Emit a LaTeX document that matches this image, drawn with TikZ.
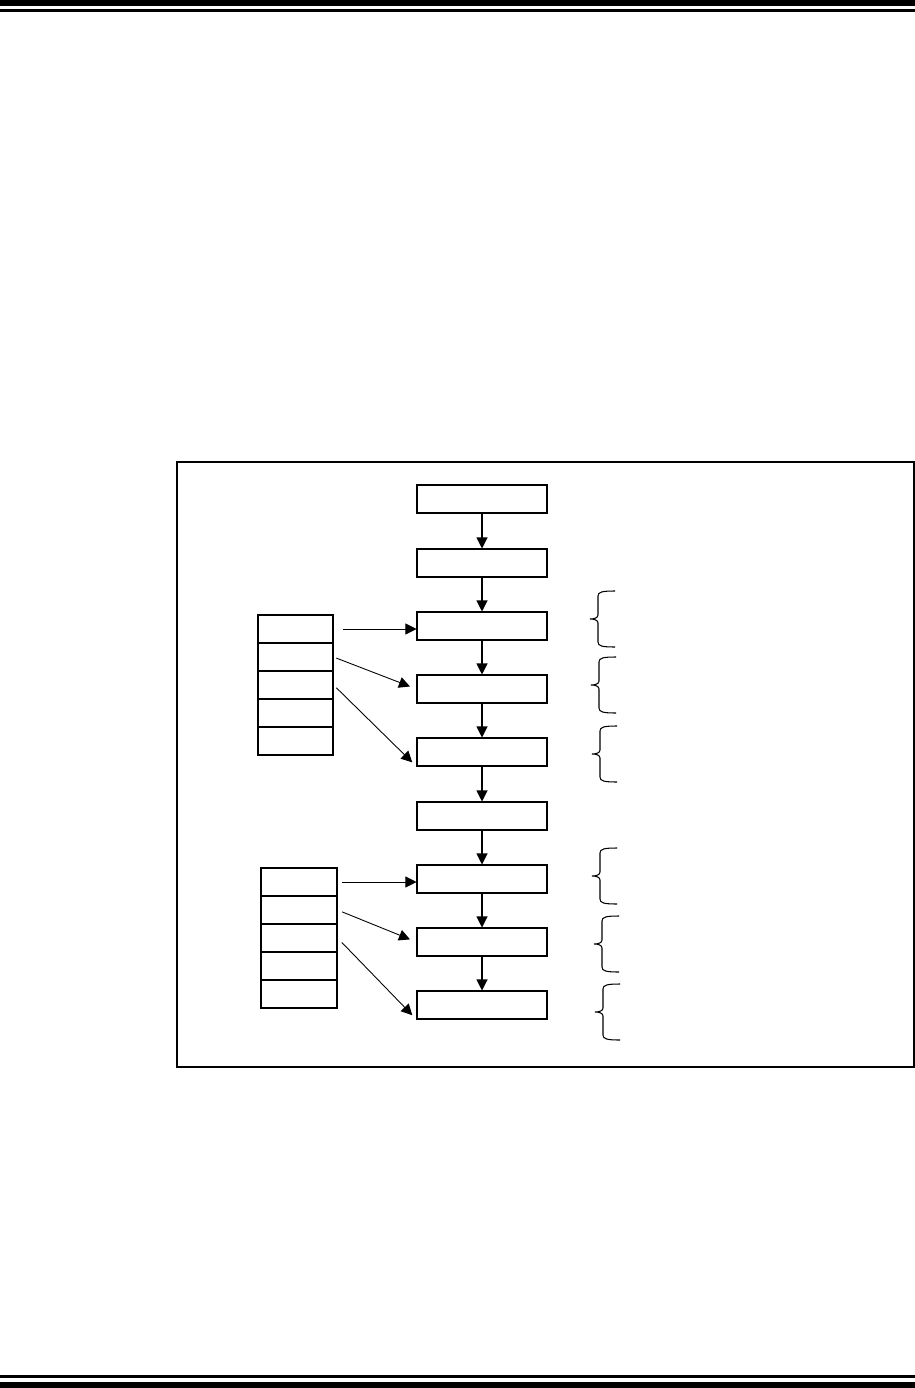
\documentclass[tikz,border=0pt]{standalone}
\usetikzlibrary{arrows.meta}
\tikzset{
  stepbox/.style={draw,line width=0.6pt,minimum width=2.6cm,minimum height=0.56cm,inner sep=0pt},
  cellbox/.style={draw,line width=0.6pt,minimum width=1.5cm,minimum height=0.56cm,inner sep=0pt},
  flow/.style={-{Triangle[length=2.2mm,width=2.2mm]},line width=0.6pt},
  feed/.style={-{Triangle[length=2.2mm,width=2.2mm]},line width=0.5pt}
}
% side brace: tip at (#1,#2), half height #3
\newcommand{\sidebrace}[3]{%
  \draw[line width=0.6pt] (#1+25,#2-#3) .. controls (#1+12,#2-#3) and (#1+8,#2-#3+1) .. (#1+8,#2-#3+5)
    -- (#1+8,#2-4) .. controls (#1+8,#2-1) and (#1+4,#2) .. (#1,#2)
    .. controls (#1+4,#2) and (#1+8,#2+1) .. (#1+8,#2+4)
    -- (#1+8,#2+#3-5) .. controls (#1+8,#2+#3-1) and (#1+12,#2+#3) .. (#1+25,#2+#3);}
\begin{document}
\begin{tikzpicture}[x=0.02cm,y=-0.02cm]
  \useasboundingbox (0,0) rectangle (915,1388);
  % page rules
  \fill (0,0) rectangle (915,6);
  \fill (0,9.5) rectangle (915,12);
  \fill (0,1375.3) rectangle (915,1377.5);
  \fill (0,1382) rectangle (915,1388);
  % frame
  \draw[line width=0.6pt] (177,462) rectangle (914,1067);
  % main column
  \node[stepbox] (m1) at (482,499) {};
  \node[stepbox] (m2) at (482,563) {};
  \node[stepbox] (m3) at (482,626) {};
  \node[stepbox] (m4) at (482,689) {};
  \node[stepbox] (m5) at (482,752) {};
  \node[stepbox] (m6) at (482,816) {};
  \node[stepbox] (m7) at (482,879) {};
  \node[stepbox] (m8) at (482,942) {};
  \node[stepbox] (m9) at (482,1005) {};
  \draw[flow] (m1)--(m2);
  \draw[flow] (m2)--(m3);
  \draw[flow] (m3)--(m4);
  \draw[flow] (m4)--(m5);
  \draw[flow] (m5)--(m6);
  \draw[flow] (m6)--(m7);
  \draw[flow] (m7)--(m8);
  \draw[flow] (m8)--(m9);
  % upper stack
  \node[cellbox] (ua) at (295.5,629) {};
  \node[cellbox] (ub) at (295.5,657) {};
  \node[cellbox] (uc) at (295.5,685) {};
  \node[cellbox] (ud) at (295.5,713) {};
  \node[cellbox] (ue) at (295.5,741) {};
  \draw[feed,shorten <=9*0.02cm] (ua.east)--(ua.east -| m3.west);
  \draw[feed,shorten <=3*0.02cm,shorten >=7*0.02cm] (ub.east)--(m4.west);
  \draw[feed,shorten <=4*0.02cm,shorten >=6*0.02cm] (uc.east)--(m5.south west);
  % lower stack
  \node[cellbox,minimum width=1.52cm] (la) at (299,882) {};
  \node[cellbox,minimum width=1.52cm] (lb) at (299,910) {};
  \node[cellbox,minimum width=1.52cm] (lc) at (299,938) {};
  \node[cellbox,minimum width=1.52cm] (ld) at (299,966) {};
  \node[cellbox,minimum width=1.52cm] (le) at (299,994) {};
  \draw[feed,shorten <=4*0.02cm] (la.east)--(la.east -| m7.west);
  \draw[feed,shorten <=5*0.02cm,shorten >=7*0.02cm] (lb.east)--(m8.west);
  \draw[feed,shorten <=6*0.02cm,shorten >=6*0.02cm] (lc.east)--(m9.south west);
  % braces
  \sidebrace{590}{619}{28}
  \sidebrace{591}{685}{28}
  \sidebrace{592}{754}{28}
  \sidebrace{592}{876}{28}
  \sidebrace{594}{944}{28}
  \sidebrace{595}{1012}{28}
\end{tikzpicture}
\end{document}
